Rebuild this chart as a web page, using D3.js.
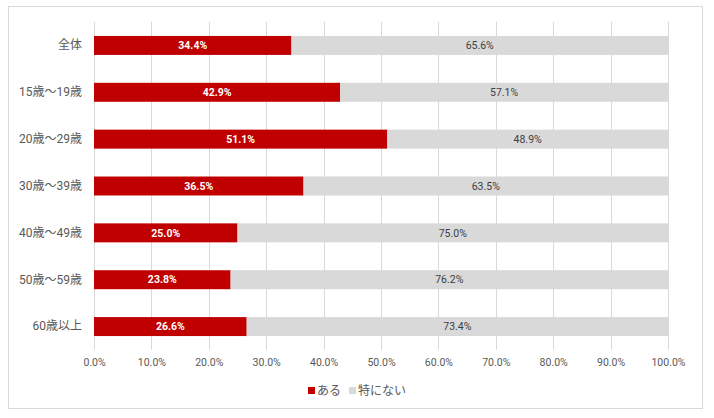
<!DOCTYPE html>
<html>
<head>
<meta charset="utf-8">
<script src="https://cdn.jsdelivr.net/npm/d3@7"></script>
<style>
  body { margin: 0; background: #fff; }
  svg { display: block; }
</style>
</head>
<body>
<svg></svg>
<script>
const categories = ["全体", "15歳～19歳", "20歳～29歳", "30歳～39歳", "40歳～49歳", "50歳～59歳", "60歳以上"];
const aru = [34.4, 42.9, 51.1, 36.5, 25.0, 23.8, 26.6];
const tokuniNai = [65.6, 57.1, 48.9, 63.5, 75.0, 76.2, 73.4];
const seriesNames = ["ある", "特にない"];
const seriesColors = ["#c00000", "#d9d9d9"];
const xTicks = [0, 10, 20, 30, 40, 50, 60, 70, 80, 90, 100];

let svg = d3.select("svg").attr("width", 714).attr("height", 418);
const font = "Roboto, 'Noto Sans CJK JP', sans-serif";

// outer frame
svg.append("rect")
    .attr("x", 8.5).attr("y", 6.5)
    .attr("width", 694).attr("height", 402)
    .style("fill", "#fff")
    .style("stroke", "#d9d9d9")
    .style("stroke-width", 1);

const plotLeft = 94, plotRight = 668, plotTop = 22, plotBottom = 350;

let x = d3.scaleLinear().domain([0, 100]).range([plotLeft, plotRight]);
let y = d3.scaleBand().domain(categories).range([plotTop, plotBottom]).paddingInner(0.595).paddingOuter(0.2975);

// grid
svg.append("g")
    .selectAll("line")
    .data(xTicks)
    .join("line")
    .attr("x1", d => Math.round(x(d)) + 0.5)
    .attr("x2", d => Math.round(x(d)) + 0.5)
    .attr("y1", plotTop)
    .attr("y2", plotBottom)
    .style("stroke", "#d9d9d9")
    .style("stroke-width", 1);

let rows = categories.map((c, i) => ({ cat: c, a: aru[i], b: tokuniNai[i] }));

let bars = svg.append("g");
bars.selectAll(".bar-a")
    .data(rows)
    .join("rect")
    .attr("class", "bar-a")
    .attr("x", x(0))
    .attr("y", d => y(d.cat))
    .attr("width", d => x(d.a) - x(0))
    .attr("height", y.bandwidth())
    .style("fill", seriesColors[0]);
bars.selectAll(".bar-b")
    .data(rows)
    .join("rect")
    .attr("class", "bar-b")
    .attr("x", d => x(d.a))
    .attr("y", d => y(d.cat))
    .attr("width", d => x(d.a + d.b) - x(d.a))
    .attr("height", y.bandwidth())
    .style("fill", seriesColors[1]);

// value labels
let labels = svg.append("g")
    .style("font-family", font)
    .style("font-size", "10.5px")
    .attr("text-anchor", "middle");
labels.selectAll(".lab-a")
    .data(rows)
    .join("text")
    .attr("x", d => x(d.a / 2))
    .attr("y", d => y(d.cat) + y.bandwidth() / 2)
    .attr("dy", "0.36em")
    .style("fill", "#fff")
    .style("font-weight", "bold")
    .text(d => d.a.toFixed(1) + "%");
labels.selectAll(".lab-b")
    .data(rows)
    .join("text")
    .attr("x", d => x(d.a + d.b / 2))
    .attr("y", d => y(d.cat) + y.bandwidth() / 2)
    .attr("dy", "0.36em")
    .style("fill", "#404040")
    .text(d => d.b.toFixed(1) + "%");

// category axis
let yAxis = svg.append("g")
    .attr("transform", `translate(${plotLeft},0)`)
    .call(d3.axisLeft(y).tickSize(0).tickPadding(12));
yAxis.select(".domain").remove();
yAxis.selectAll("text")
    .style("font-family", font)
    .style("font-size", "12px")
    .style("fill", "#595959");

// value axis
let xAxis = svg.append("g")
    .attr("transform", `translate(0,${plotBottom})`)
    .call(d3.axisBottom(x).tickValues(xTicks).tickSize(0).tickPadding(9).tickFormat(d => d.toFixed(1) + "%"));
xAxis.select(".domain").remove();
xAxis.selectAll("text")
    .style("font-family", font)
    .style("font-size", "10.5px")
    .style("fill", "#595959");

// legend
let legend = svg.append("g").style("font-family", font).style("font-size", "12px");
const legendX = [308, 349];
seriesNames.forEach((name, i) => {
    legend.append("rect")
        .attr("x", legendX[i]).attr("y", 387)
        .attr("width", 7).attr("height", 7)
        .style("fill", seriesColors[i]);
    legend.append("text")
        .attr("x", legendX[i] + 9).attr("y", 390.5)
        .attr("dy", "0.36em")
        .style("fill", "#595959")
        .text(name);
});
</script>
</body>
</html>
